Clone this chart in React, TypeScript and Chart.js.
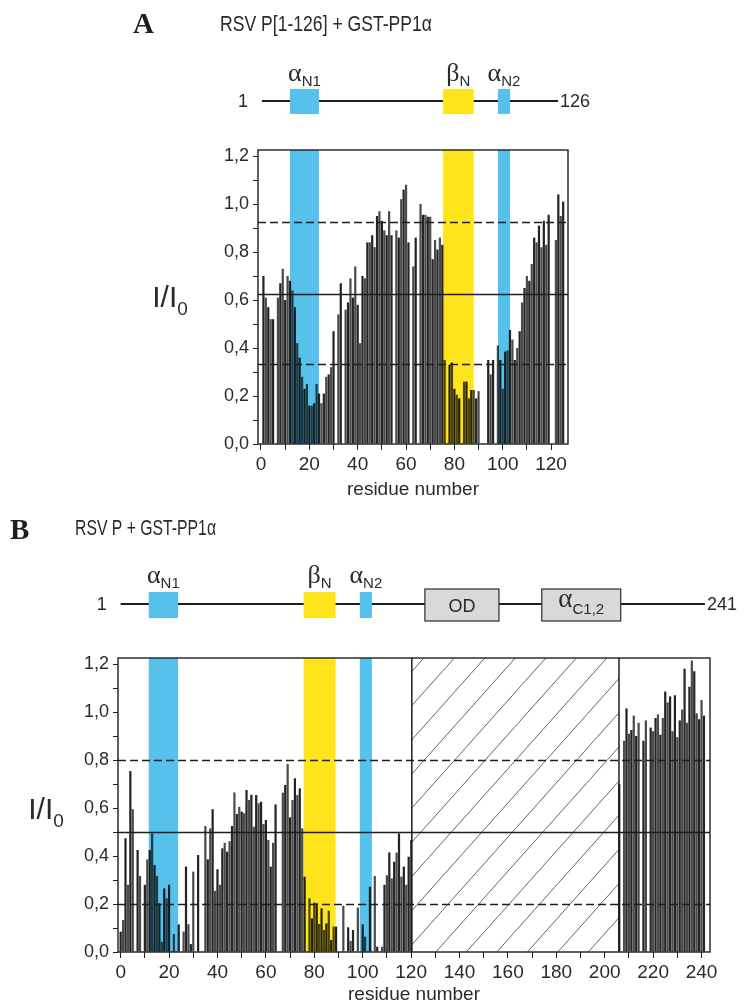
import React, { useEffect, useRef } from 'react';
import { Chart, registerables } from 'chart.js';

Chart.register(...registerables);

// ---------------- DATA ----------------
// Panel A: RSV P[1-126] + GST-PP1α, I/I0 per residue (residues 1..126, null = not measured)
const residueStartA = 1;
const intensityA: (number | null)[] = [
  0.70, 0.61, 0.57, 0.52, 0.52, null, 0.61, 0.67, 0.73, 0.60,
  0.70, 0.68, 0.64, 0.57, 0.42, 0.36, 0.28, 0.23, 0.25, 0.16,
  0.16, 0.17, 0.25, 0.21, 0.17, 0.21, 0.28, 0.29, 0.32, 0.47,
  null, 0.54, 0.67, null, 0.56, 0.59, 0.69, 0.61, 0.74, 0.58,
  0.42, 0.70, 0.69, 0.84, 0.84, 0.87, 0.82, 0.95, 0.97, 0.93,
  0.89, 0.87, 0.97, 0.87, null, 0.89, 0.86, 1.02, 1.06, 1.08,
  0.84, null, 0.74, 0.86, null, 1.00, 0.955, 0.955, 0.947, 0.947,
  0.77, 0.85, 0.81, 0.86, 0.83, 0.35, null, 0.33, 0.34, 0.23,
  0.205, 0.19, null, 0.26, 0.26, 0.19, 0.225, 0.225, 0.19, 0.22,
  null, null, null, 0.35, 0.29, 0.35, null, 0.41, 0.35, 0.23,
  0.385, 0.39, 0.475, 0.435, 0.35, 0.40, 0.47, 0.59, 0.65, 0.70,
  0.68, 0.75, 0.86, 0.84, 0.91, 0.82, 0.93, 0.83, 0.955, null,
  null, 0.85, 1.04, 0.95, 1.01, null,
];
const thresholdsA = [0.925, 0.625, 0.335]; // mean + SD, mean, mean - SD

// Panel B: RSV P + GST-PP1α
const residueStartBN = 0; // N-terminal part, residues 0..120
const intensityBN: (number | null)[] = [
  0.085, 0.133, 0.474, 0.28, 0.754, 0.595, null, 0.425, 0.317, null,
  0.28, 0.386, 0.425, 0.494, 0.362, 0.317, 0.203, 0.043, 0.265, 0.224,
  0.28, null, 0.075, null, 0.115, null, 0.085, 0.356, 0.116, 0.033,
  0.335, null, 0.404, null, null, 0.525, 0.386, 0.515, 0.595, 0.255,
  0.345, 0.28, 0.432, 0.455, 0.418, 0.462, 0.525, 0.665, 0.575, 0.605,
  0.585, 0.578, 0.675, 0.633, 0.655, 0.522, 0.654, 0.62, 0.626, 0.533,
  0.55, 0.467, 0.356, 0.455, 0.615, null, null, 0.664, 0.696, 0.783,
  0.561, 0.633, 0.724, 0.654, 0.682, 0.515, 0.314, null, 0.224, 0.14,
  0.206, 0.203, 0.117, 0.182, 0.092, 0.119, 0.172, 0.05, 0.106, 0.106,
  null, null, 0.193, null, 0.103, 0.046, 0.092, null, 0.185, null,
  0.115, 0.064, null, 0.272, null, 0.317, 0.022, null, 0.022, 0.28,
  0.32, 0.415, 0.307, 0.376, 0.414, 0.494, 0.314, 0.356, 0.28, 0.397,
  0.467,
];
const residueStartBC = 206; // C-terminal part, residues 206..241
const intensityBC: (number | null)[] = [
  0.70, null, 0.88, 1.015, 0.91, 0.925, 0.985, 0.90, 0.955, null,
  0.88, 0.965, null, 0.935, 0.92, 0.975, 0.99, 0.905, 0.975, 1.085,
  1.04, 1.065, 0.92, 1.07, 0.895, 0.965, 1.01, 1.18, 0.955, 1.105,
  1.215, 1.17, 0.995, 0.97, 1.05, 0.985,
];
const thresholdsB = [0.8, 0.5, 0.2];
const unassignedB = [120.3, 205.9]; // hatched (not observed) residue range

// Secondary-structure / domain annotations (residue ranges)
const domainsA = [
  { name: 'α', sub: 'N1', start: 12, end: 24, kind: 'helix' },
  { name: 'β', sub: 'N', start: 75.3, end: 88, kind: 'strand' },
  { name: 'α', sub: 'N2', start: 98, end: 103, kind: 'helix' },
];
const domainsB = [
  { name: 'α', sub: 'N1', start: 11.6, end: 23.7, kind: 'helix' },
  { name: 'β', sub: 'N', start: 75.6, end: 88.8, kind: 'strand' },
  { name: 'α', sub: 'N2', start: 98.8, end: 103.8, kind: 'helix' },
  { name: 'OD', sub: '', start: 125.7, end: 156.3, kind: 'box' },
  { name: 'α', sub: 'C1,2', start: 174, end: 206.6, kind: 'box' },
];
const yTicks = [0, 0.2, 0.4, 0.6, 0.8, 1.0, 1.2];

// ---------------- STYLE ----------------
const SANS = '"Liberation Sans", Arial, Helvetica, sans-serif';
const SERIF = '"Liberation Serif", "Times New Roman", serif';
const BLUE = '#56c1ea';
const YELLOW = '#ffe41c';
const INK = '#1e1e1e';

function toPoints(start: number, vals: (number | null)[]) {
  const pts: { x: number; y: number }[] = [];
  vals.forEach((v, i) => {
    if (v !== null) pts.push({ x: start + i, y: v });
  });
  return pts;
}

type Domain = { name: string; sub: string; start: number; end: number; kind: string };

type Panel = {
  width: number;
  height: number;
  bars: { x: number; y: number }[];
  xMin: number;
  xMax: number;
  padding: { left: number; right: number; top: number; bottom: number };
  xAxisHeight: number;
  thresholds: number[];
  domains: Domain[];
  hatch?: number[];
  letter: { text: string; x: number; y: number };
  title: { text: string; x: number; y: number; size: number; width: number };
  diagram: { lineY: number; from: number; to: number; startLabel: string; endLabel: string; boxTop: number; boxBottom: number; grayTop: number; grayBottom: number; labelY: number };
  yTitle: { x: number; y: number };
};

function drawRich(ctx: CanvasRenderingContext2D, parts: { t: string; font: string; dy: number }[], cx: number, y: number, align: 'center' | 'left' = 'center') {
  let total = 0;
  const widths = parts.map((p) => {
    ctx.font = p.font;
    const w = ctx.measureText(p.t).width;
    total += w;
    return w;
  });
  let x = align === 'center' ? cx - total / 2 : cx;
  ctx.textAlign = 'left';
  ctx.textBaseline = 'alphabetic';
  parts.forEach((p, i) => {
    ctx.font = p.font;
    ctx.fillText(p.t, x, y + p.dy);
    x += widths[i];
  });
}

function figurePlugin(panel: Panel) {
  return {
    id: 'figure',
    beforeDatasetsDraw(chart: any) {
      const { ctx, chartArea } = chart;
      const xs = chart.scales.x;
      ctx.save();
      // secondary structure shading
      panel.domains.forEach((d) => {
        if (d.kind === 'box') return;
        const x1 = xs.getPixelForValue(d.start);
        const x2 = xs.getPixelForValue(d.end);
        ctx.fillStyle = d.kind === 'helix' ? BLUE : YELLOW;
        ctx.fillRect(x1, chartArea.top, x2 - x1, chartArea.bottom - chartArea.top);
      });
      // hatched region
      if (panel.hatch) {
        const x1 = xs.getPixelForValue(panel.hatch[0]);
        const x2 = xs.getPixelForValue(panel.hatch[1]);
        const top = chartArea.top;
        const bottom = chartArea.bottom;
        const H = bottom - top;
        ctx.save();
        ctx.beginPath();
        ctx.rect(x1, top, x2 - x1, H);
        ctx.clip();
        ctx.strokeStyle = '#555';
        ctx.lineWidth = 0.9;
        const spacing = 30.5;
        const run = H / 1.12;
        for (let bx = x1 - run - spacing; bx < x2 + spacing; bx += spacing) {
          ctx.beginPath();
          ctx.moveTo(bx + 12, bottom);
          ctx.lineTo(bx + 12 + run, top);
          ctx.stroke();
        }
        ctx.restore();
      }
      ctx.restore();
    },
    afterDatasetsDraw(chart: any) {
      const { ctx, chartArea } = chart;
      const xs = chart.scales.x;
      const ys = chart.scales.y;
      ctx.save();
      // threshold lines
      panel.thresholds.forEach((t, i) => {
        const y = Math.round(ys.getPixelForValue(t)) + 0.5;
        ctx.beginPath();
        ctx.setLineDash(i === 1 ? [] : [8, 4]);
        ctx.strokeStyle = INK;
        ctx.lineWidth = i === 1 ? 1.3 : 1.4;
        ctx.moveTo(chartArea.left, y);
        ctx.lineTo(chartArea.right, y);
        ctx.stroke();
      });
      ctx.setLineDash([]);
      if (panel.hatch) {
        panel.hatch.forEach((h) => {
          const x = xs.getPixelForValue(h);
          ctx.beginPath();
          ctx.strokeStyle = INK;
          ctx.lineWidth = 1.5;
          ctx.moveTo(x, chartArea.top);
          ctx.lineTo(x, chartArea.bottom);
          ctx.stroke();
        });
      }
      // frame
      ctx.strokeStyle = INK;
      ctx.lineWidth = 1.4;
      ctx.strokeRect(chartArea.left, chartArea.top, chartArea.right - chartArea.left, chartArea.bottom - chartArea.top);
      ctx.restore();
    },
    afterDraw(chart: any) {
      const { ctx } = chart;
      const xs = chart.scales.x;
      ctx.save();
      ctx.fillStyle = INK;
      // panel letter and title
      ctx.font = `bold 29px ${SERIF}`;
      ctx.textAlign = 'left';
      ctx.textBaseline = 'alphabetic';
      ctx.fillText(panel.letter.text, panel.letter.x, panel.letter.y);
      ctx.font = `${panel.title.size}px ${SANS}`;
      ctx.fillStyle = '#2a2a2a';
      const tw = ctx.measureText(panel.title.text).width;
      ctx.save();
      ctx.translate(panel.title.x, panel.title.y);
      ctx.scale(panel.title.width / tw, 1);
      ctx.fillText(panel.title.text, 0, 0);
      ctx.restore();

      // domain diagram
      const dg = panel.diagram;
      const lx1 = xs.getPixelForValue(dg.from);
      const lx2 = xs.getPixelForValue(dg.to);
      ctx.strokeStyle = INK;
      ctx.lineWidth = 2;
      ctx.beginPath();
      ctx.moveTo(lx1, dg.lineY);
      ctx.lineTo(lx2, dg.lineY);
      ctx.stroke();
      ctx.font = `18px ${SANS}`;
      ctx.fillStyle = '#2a2a2a';
      ctx.textBaseline = 'middle';
      ctx.textAlign = 'right';
      ctx.fillText(dg.startLabel, lx1 - 14, dg.lineY + 1);
      ctx.textAlign = 'left';
      ctx.fillText(dg.endLabel, lx2 + 2, dg.lineY + 1);
      panel.domains.forEach((d) => {
        const x1 = xs.getPixelForValue(d.start);
        const x2 = xs.getPixelForValue(d.end);
        if (d.kind === 'box') {
          ctx.fillStyle = '#d9d9d9';
          ctx.fillRect(x1, dg.grayTop, x2 - x1, dg.grayBottom - dg.grayTop);
          ctx.strokeStyle = '#3a3a3a';
          ctx.lineWidth = 1.3;
          ctx.strokeRect(x1, dg.grayTop, x2 - x1, dg.grayBottom - dg.grayTop);
          ctx.fillStyle = '#2a2a2a';
          const cy = (dg.grayTop + dg.grayBottom) / 2;
          if (d.sub) {
            drawRich(ctx, [
              { t: d.name, font: `27px ${SERIF}`, dy: 0 },
              { t: d.sub, font: `15px ${SANS}`, dy: 7 },
            ], (x1 + x2) / 2, cy + 2);
          } else {
            drawRich(ctx, [{ t: d.name, font: `18px ${SANS}`, dy: 0 }], (x1 + x2) / 2, cy + 7);
          }
        } else {
          ctx.fillStyle = d.kind === 'helix' ? BLUE : YELLOW;
          ctx.fillRect(x1, dg.boxTop, x2 - x1, dg.boxBottom - dg.boxTop);
          ctx.fillStyle = '#2a2a2a';
          drawRich(ctx, [
            { t: d.name, font: `26px ${SERIF}`, dy: 0 },
            { t: d.sub, font: `15px ${SANS}`, dy: 5 },
          ], (x1 + x2) / 2, dg.labelY);
        }
      });

      // y-axis title I/I0
      ctx.fillStyle = '#2a2a2a';
      drawRich(ctx, [
        { t: 'I/I', font: `30px ${SANS}`, dy: 0 },
        { t: '0', font: `19px ${SANS}`, dy: 8 },
      ], panel.yTitle.x, panel.yTitle.y + 10);
      ctx.restore();
    },
  };
}

function makeConfig(panel: Panel): any {
  return {
    type: 'bar',
    data: {
      datasets: [
        {
          data: panel.bars,
          backgroundColor: (c: any) => (c.dataIndex % 2 === 0 ? 'rgba(12,12,12,0.9)' : 'rgba(12,12,12,0.74)'),
          borderWidth: 0,
          barPercentage: 0.92,
          categoryPercentage: 1,
        },
      ],
    },
    options: {
      responsive: false,
      animation: false,
      devicePixelRatio: 1,
      layout: { padding: panel.padding },
      plugins: { legend: { display: false }, tooltip: { enabled: false }, title: { display: false } },
      scales: {
        x: {
          type: 'linear',
          min: panel.xMin,
          max: panel.xMax,
          offset: false,
          grid: { display: true, drawOnChartArea: false, drawTicks: true, tickLength: 6, color: INK, offset: false },
          border: { display: false },
          ticks: {
            stepSize: 10,
            includeBounds: false,
            autoSkip: false,
            maxRotation: 0,
            padding: 3,
            color: '#2a2a2a',
            font: { family: SANS, size: 19 },
            callback: (v: number) => (Math.round(v) % 20 === 0 ? String(Math.round(v)) : ''),
          },
          title: {
            display: true,
            text: 'residue number',
            color: '#2a2a2a',
            font: { family: SANS, size: 19 },
            padding: 0,
          },
          afterFit: (s: any) => {
            s.height = panel.xAxisHeight;
            s.paddingLeft = 0;
            s.paddingRight = 0;
          },
        },
        y: {
          min: 0,
          max: 1.225,
          grid: { display: true, drawOnChartArea: false, drawTicks: true, tickLength: 5, color: INK },
          border: { display: false },
          ticks: {
            stepSize: 0.1,
            includeBounds: false,
            autoSkip: false,
            padding: 4,
            color: '#2a2a2a',
            font: { family: SANS, size: 18 },
            callback: (v: number) => {
              const hit = yTicks.find((t) => Math.abs(t - v) < 1e-6);
              return hit === undefined ? '' : hit.toFixed(1).replace('.', ',');
            },
          },
          afterFit: (s: any) => {
            s.width = 60;
            s.paddingTop = 0;
            s.paddingBottom = 0;
          },
        },
      },
    },
    plugins: [figurePlugin(panel)],
  };
}

const panelA: Panel = {
  width: 745,
  height: 505,
  bars: toPoints(residueStartA, intensityA),
  xMin: -1.24,
  xMax: 127,
  padding: { left: 198, right: 177, top: 150, bottom: 4 },
  xAxisHeight: 57,
  thresholds: thresholdsA,
  domains: domainsA,
  letter: { text: 'A', x: 133, y: 33 },
  title: { text: 'RSV P[1-126] + GST-PP1α', x: 220, y: 31, size: 22.5, width: 212 },
  diagram: { lineY: 101, from: 0.4, to: 122.9, startLabel: '1', endLabel: '126', boxTop: 89, boxBottom: 114, grayTop: 86, grayBottom: 117, labelY: 81 },
  yTitle: { x: 170, y: 297 },
};

const panelB: Panel = {
  width: 745,
  height: 502,
  bars: [...toPoints(residueStartBN, intensityBN), ...toPoints(residueStartBC, intensityBC)],
  xMin: -1.1,
  xMax: 243.5,
  padding: { left: 58, right: 35, top: 153, bottom: 1 },
  xAxisHeight: 54,
  thresholds: thresholdsB,
  domains: domainsB,
  hatch: unassignedB,
  letter: { text: 'B', x: 10, y: 34 },
  title: { text: 'RSV P + GST-PP1α', x: 75, y: 30, size: 22.5, width: 141 },
  diagram: { lineY: 99, from: 0, to: 241.4, startLabel: '1', endLabel: '241', boxTop: 87, boxBottom: 113, grayTop: 84, grayBottom: 116, labelY: 78 },
  yTitle: { x: 46, y: 304 },
};

export default function App() {
  const refA = useRef<HTMLCanvasElement>(null);
  const refB = useRef<HTMLCanvasElement>(null);
  useEffect(() => {
    const a = new Chart(refA.current as HTMLCanvasElement, makeConfig(panelA));
    const b = new Chart(refB.current as HTMLCanvasElement, makeConfig(panelB));
    return () => {
      a.destroy();
      b.destroy();
    };
  }, []);
  return (
    <div style={{ position: 'absolute', left: 0, top: 0, width: 745, height: 1007, background: '#fff' }}>
      <canvas ref={refA} width={panelA.width} height={panelA.height} style={{ position: 'absolute', left: 0, top: 0, width: panelA.width, height: panelA.height }} />
      <canvas ref={refB} width={panelB.width} height={panelB.height} style={{ position: 'absolute', left: 0, top: 505, width: panelB.width, height: panelB.height }} />
    </div>
  );
}
